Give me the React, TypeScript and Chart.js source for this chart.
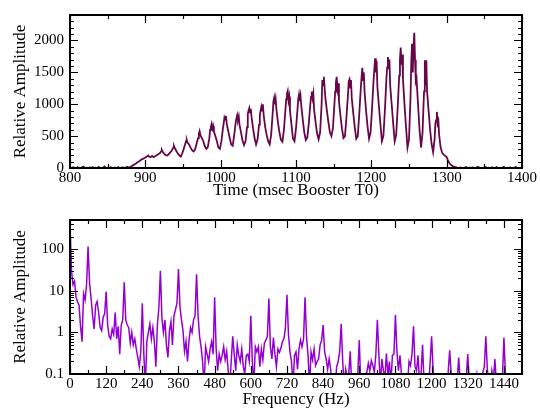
import React, { useEffect, useRef } from "react";
import { Chart, registerables } from "chart.js";

Chart.register(...registerables);

const FONT = "'Liberation Serif', 'Times New Roman', Times, serif";
const TOP_COLOR = "rgb(103,7,72)";
const BOTTOM_COLOR = "rgb(148,0,211)";

// ---- Top panel: time signal ----
const timeMs = [
  800, 802, 804, 806, 808, 810, 812, 814, 816, 818,
  820, 822, 824, 826, 828, 830, 832, 834, 836, 838,
  840, 842, 844, 846, 848, 850, 852, 854, 856, 858,
  860, 862, 864, 866, 868, 870, 872, 874, 876, 878,
  880, 882, 884, 886, 888, 890, 892, 894, 896, 898,
  900, 902, 904, 905, 907, 909, 911, 913, 915, 917,
  919, 921, 922, 923, 925, 927, 929, 931, 933, 935,
  937, 938, 939, 941, 943, 945, 947, 949, 951, 953,
  954, 955, 956, 958, 960, 962, 964, 966, 968, 970,
  971, 972, 973, 975, 977, 979, 981, 983, 985, 986,
  987, 988, 989, 990, 991, 993, 995, 997, 999, 1001,
  1003, 1004, 1005, 1006, 1007, 1008, 1010, 1012, 1014, 1016,
  1018, 1020, 1021, 1022, 1023, 1024, 1025, 1027, 1029, 1031,
  1033, 1035, 1036, 1037, 1038, 1039, 1040, 1041, 1043, 1045,
  1047, 1049, 1051, 1052, 1053, 1054, 1055, 1056, 1057, 1059,
  1061, 1063, 1065, 1067, 1069, 1070, 1071, 1072, 1073, 1074,
  1076, 1078, 1080, 1082, 1084, 1086, 1087, 1088, 1089, 1090,
  1091, 1092, 1094, 1096, 1098, 1100, 1102, 1103, 1104, 1105,
  1106, 1107, 1109, 1111, 1113, 1115, 1117, 1119, 1120, 1121,
  1122, 1123, 1124, 1126, 1128, 1130, 1132, 1134, 1135, 1136,
  1137, 1138, 1139, 1141, 1143, 1145, 1147, 1149, 1151, 1152,
  1153, 1154, 1155, 1156, 1157, 1159, 1161, 1163, 1165, 1167,
  1169, 1170, 1171, 1172, 1173, 1174, 1176, 1178, 1180, 1182,
  1184, 1186, 1187, 1188, 1189, 1190, 1191, 1193, 1195, 1197,
  1199, 1201, 1203, 1204, 1205, 1206, 1207, 1208, 1210, 1212,
  1214, 1216, 1218, 1220, 1221, 1222, 1223, 1224, 1225, 1227,
  1229, 1231, 1233, 1235, 1237, 1238, 1239, 1240, 1241, 1242,
  1244, 1246, 1248, 1250, 1252, 1253, 1254, 1255, 1256, 1257,
  1258, 1259, 1260, 1262, 1264, 1266, 1268, 1269, 1270, 1271,
  1272, 1273, 1274, 1276, 1278, 1280, 1282, 1284, 1285, 1286,
  1287, 1288, 1289, 1290, 1292, 1294, 1296, 1298, 1300, 1302,
  1304, 1306, 1308, 1310, 1312, 1314, 1316, 1318, 1320, 1322,
  1324, 1326, 1328, 1330, 1332, 1334, 1336, 1338, 1340, 1342,
  1344, 1346, 1348, 1350, 1352, 1354, 1356, 1358, 1360, 1362,
  1364, 1366, 1368, 1370, 1372, 1374, 1376, 1378, 1380, 1382,
  1384, 1386, 1388, 1390, 1392, 1394, 1396, 1398, 1400,
];

const amplitude = [
  8, -6, 12, 3, -10, 15, 0, -8, 10, 22,
  -4, 6, -12, 9, 2, 14, -7, 5, -3, 18,
  0, -9, 7, 25, -5, 4, -11, 13, 1, -6,
  9, -2, 16, -8, 4, 11, -5, 8, 20, 6,
  15, 30, 45, 60, 75, 95, 105, 125, 140, 150,
  165, 180, 195, 180, 170, 190, 170, 185, 200, 215,
  230, 260, 280, 255, 225, 200, 195, 215, 245, 270,
  320, 345, 315, 270, 230, 200, 180, 230, 300, 380,
  420, 440, 400, 370, 320, 280, 260, 290, 380, 470,
  540, 580, 520, 470, 420, 340, 300, 330, 470, 600,
  640, 690, 620, 660, 570, 500, 420, 320, 300, 420,
  620, 700, 790, 760, 820, 700, 580, 470, 370, 350,
  520, 720, 780, 830, 760, 810, 680, 560, 430, 360,
  420, 640, 850, 900, 940, 870, 930, 800, 620, 470,
  370, 450, 680, 830, 900, 960, 900, 1000, 840, 650,
  520, 420, 370, 520, 850, 1040, 1100, 1000, 1080, 920,
  720, 560, 440, 410, 600, 920, 1080, 1170, 1210, 1060,
  1120, 900, 680, 460, 420, 620, 920, 1080, 1150, 1050,
  1130, 980, 760, 560, 440, 480, 700, 1000, 1120, 1200,
  1100, 1170, 920, 720, 540, 450, 560, 1000, 1380, 1300,
  1430, 1250, 1100, 900, 720, 560, 500, 620, 1000, 1200,
  1340, 1430, 1250, 1330, 1050, 820, 620, 470, 500, 800,
  1150, 1360, 1390, 1260, 1380, 1100, 860, 640, 460, 500,
  850, 1250, 1420, 1570, 1380, 1500, 1200, 900, 650, 460,
  560, 950, 1380, 1550, 1720, 1500, 1680, 1280, 980, 700,
  420, 500, 900, 1400, 1580, 1740, 1550, 1700, 1300, 1000,
  700, 420, 520, 950, 1450, 1700, 1890, 1620, 1780, 1400,
  1000, 650, 320, 450, 1100, 1650, 1950, 1500, 1900, 2120,
  1700, 1360, 1400, 1000, 600, 320, 560, 900, 1200, 1690,
  1300, 1690, 1200, 900, 600, 380, 250, 450, 700, 750,
  880, 700, 740, 520, 320, 240, 210, 190, 170, 110,
  70, 45, 30, 20, 12, 5, -4, 10, 2, -6,
  8, 15, -3, 6, -8, 12, 0, -5, 9, 18,
  -2, 4, -9, 7, 14, -4, 3, -7, 10, 1,
  -5, 13, -2, 6, -8, 9, 20, -3, 5, -6,
  11, 0, -4, 8, 16, -2, 5, -7, 10,
];

// ---- Bottom panel: spectrum, one value per 5 Hz bin (0 .. 1500 Hz) ----
const FREQ_STEP_HZ = 5;
const spectrumAmp = [
  450, 30, 14, 17, 7, 5.5, 4.5, 1.4, 0.6, 8.5, 6, 14,               // 0-55
  115, 15, 6.5, 2.5, 1.2, 4.5, 5.5, 3, 1.3, 1.1, 2.3, 2.8,          // 60-115
  9.5, 1.5, 0.8, 0.7, 1.2, 0.9, 3, 0.7, 1.4, 0.3, 1.5, 2,           // 120-175
  16, 2, 1.5, 1.3, 0.55, 1, 0.5, 0.7, 0.4, 0.25, 0.15, 0.35,        // 180-235
  5, 0.3, 0.05, 0.6, 1, 1.6, 0.7, 1.3, 0.6, 0.15, 1.5, 4,           // 240-295
  30, 2.2, 1, 2, 0.5, 0.25, 1.1, 1.8, 0.5, 2.5, 3.5, 5,             // 300-355
  33, 4, 2, 1.1, 0.35, 0.6, 0.2, 0.65, 1.3, 1, 2, 2.5,              // 360-415
  25, 2.5, 0.8, 0.45, 0.2, 0.05, 0.45, 0.3, 0.2, 0.4, 0.6, 0.3,     // 420-475
  7, 0.4, 0.12, 0.3, 0.2, 0.28, 0.45, 0.22, 0.35, 0.12, 0.05, 0.2,  // 480-535
  0.8, 0.3, 0.12, 0.5, 0.28, 0.2, 0.4, 0.15, 0.1, 0.28, 0.3, 0.2,   // 540-595
  2.5, 0.2, 0.05, 0.45, 0.34, 0.45, 0.15, 0.4, 0.22, 0.55, 0.65, 0.8, // 600-655
  6.5, 0.45, 0.23, 0.75, 0.3, 0.15, 0.4, 0.33, 0.42, 0.6, 0.7, 1.3, // 660-715
  8, 0.9, 0.34, 0.2, 0.05, 0.28, 0.34, 0.13, 0.4, 0.65, 0.45, 0.7,  // 720-775
  7, 0.75, 0.28, 0.05, 0.34, 0.22, 0.4, 0.16, 0.2, 0.23, 0.5, 0.65, // 780-835
  1.5, 0.34, 0.23, 0.13, 0.23, 0.13, 0.05, 0.08, 0.05, 0.15, 0.2, 0.35, // 840-895
  1.6, 0.2, 0.05, 0.13, 0.08, 0.1, 0.35, 0.05, 0.07, 0.05, 0.08, 0.1, // 900-955
  0.65, 0.05, 0.07, 0.05, 0.1, 0.11, 0.18, 0.12, 0.21, 0.16, 0.11, 0.3, // 960-1015
  2, 0.3, 0.05, 0.23, 0.12, 0.08, 0.31, 0.09, 0.2, 0.06, 0.28, 0.3, // 1020-1075
  2.6, 0.34, 0.12, 0.28, 0.1, 0.06, 0.05, 0.07, 0.05, 0.2, 0.16, 0.3, // 1080-1135
  1.4, 0.15, 0.12, 0.28, 0.06, 0.1, 0.5, 0.06, 0.05, 0.07, 0.05, 0.18, // 1140-1195
  0.8, 0.13, 0.05, 0.06, 0.05, 0.07, 0.05, 0.06, 0.05, 0.07, 0.06, 0.11, // 1200-1255
  0.37, 0.1, 0.05, 0.06, 0.05, 0.07, 0.25, 0.06, 0.05, 0.07, 0.05, 0.08, // 1260-1315
  0.3, 0.06, 0.05, 0.07, 0.05, 0.06, 0.1, 0.05, 0.06, 0.05, 0.11, 0.15,  // 1320-1375
  0.8, 0.13, 0.06, 0.05, 0.12, 0.07, 0.23, 0.06, 0.05, 0.06, 0.05, 0.08, // 1380-1435
  0.75, 0.1, 0.05, 0.06, 0.05, 0.07, 0.05, 0.06, 0.05, 0.06, 0.05, 0.07, // 1440-1495
  0.12,                                                               // 1500
];

// ---- Axis tick values ----
const timeMajorTicks = [800, 900, 1000, 1100, 1200, 1300, 1400];
const timeMinorTicks = [850, 950, 1050, 1150, 1250, 1350];
const ampMajorTicks = [0, 500, 1000, 1500, 2000];
const ampMinorTicks = [100, 200, 300, 400, 600, 700, 800, 900, 1100, 1200, 1300, 1400,
  1600, 1700, 1800, 1900, 2100, 2200, 2300];
const freqMajorTicks = [0, 120, 240, 360, 480, 600, 720, 840, 960, 1080, 1200, 1320, 1440];
const freqMinorTicks = [60, 180, 300, 420, 540, 660, 780, 900, 1020, 1140, 1260, 1380, 1500];
const logMajorTicks = [0.1, 1, 10, 100];
const logTickLabels = ["0.1", "1", "10", "100"];
const logMinorTicks = [0.2, 0.3, 0.4, 0.5, 0.6, 0.7, 0.8, 0.9, 2, 3, 4, 5, 6, 7, 8, 9,
  20, 30, 40, 50, 60, 70, 80, 90, 200, 300, 400];

// Frame with inward ticks on all four sides, positioned through the chart scales
const frameTicks = {
  id: "frameTicks",
  afterDraw(chart: any, _args: any, opts: any) {
    const { ctx, chartArea } = chart;
    const { left, right, top, bottom } = chartArea;
    const xs = chart.scales.x;
    const ys = chart.scales.y;
    ctx.save();
    ctx.strokeStyle = "#000";
    ctx.lineWidth = 1.2;
    ctx.beginPath();
    const vert = (vals: number[], len: number) => {
      vals.forEach((v) => {
        const p = Math.round(xs.getPixelForValue(v)) + 0.5;
        if (p < left - 1 || p > right + 1) return;
        ctx.moveTo(p, bottom);
        ctx.lineTo(p, bottom - len);
        ctx.moveTo(p, top);
        ctx.lineTo(p, top + len);
      });
    };
    const horiz = (vals: number[], len: number) => {
      vals.forEach((v) => {
        const p = Math.round(ys.getPixelForValue(v)) + 0.5;
        if (p < top - 1 || p > bottom + 1) return;
        ctx.moveTo(left, p);
        ctx.lineTo(left + len, p);
        ctx.moveTo(right, p);
        ctx.lineTo(right - len, p);
      });
    };
    vert(opts.xMajor, 8);
    vert(opts.xMinor, 4);
    horiz(opts.yMajor, 8);
    horiz(opts.yMinor, 4);
    ctx.stroke();
    ctx.lineWidth = 2;
    ctx.strokeRect(left, top, right - left, bottom - top);
    ctx.restore();
  },
};

const tickFont = { family: FONT, size: 15 };
const titleFont = { family: FONT, size: 17 };

const setTicks = (vals: number[]) => (s: any) => {
  s.ticks = vals.map((v) => ({ value: v }));
};

export default function App() {
  const topRef = useRef<HTMLCanvasElement | null>(null);
  const bottomRef = useRef<HTMLCanvasElement | null>(null);

  useEffect(() => {
    if (!topRef.current || !bottomRef.current) return;

    const topChart = new Chart(topRef.current, {
      type: "line",
      data: {
        datasets: [
          {
            data: timeMs.map((t, i) => ({ x: t, y: amplitude[i] })),
            borderColor: TOP_COLOR,
            borderWidth: 1.8,
            pointRadius: 0,
            tension: 0,
            fill: false,
          },
        ],
      },
      plugins: [frameTicks as any],
      options: {
        animation: false,
        responsive: false,
        devicePixelRatio: 1,
        layout: { padding: { top: 9, right: 18, bottom: 0, left: 0 } },
        plugins: {
          legend: { display: false },
          tooltip: { enabled: false },
          frameTicks: {
            xMajor: timeMajorTicks,
            xMinor: timeMinorTicks,
            yMajor: ampMajorTicks,
            yMinor: ampMinorTicks,
          },
        } as any,
        scales: {
          x: {
            type: "linear",
            min: 800,
            max: 1400,
            grid: { display: false, drawTicks: false },
            border: { display: false },
            afterBuildTicks: setTicks(timeMajorTicks),
            ticks: {
              autoSkip: false,
              maxRotation: 0,
              padding: 1,
              color: "#000",
              font: tickFont,
              callback: (v: any) => String(v),
            },
            title: {
              display: true,
              text: "Time (msec Booster T0)",
              color: "#000",
              font: titleFont,
              padding: { top: 0, bottom: 4 },
            },
            afterFit: (s: any) => {
              s.height = 37;
            },
          },
          y: {
            type: "linear",
            min: 0,
            max: 2400,
            grid: { display: false, drawTicks: false },
            border: { display: false },
            afterBuildTicks: setTicks(ampMajorTicks),
            ticks: {
              autoSkip: false,
              padding: 6,
              color: "#000",
              font: tickFont,
              callback: (v: any) => String(v),
            },
            title: {
              display: true,
              text: "Relative Amplitude",
              color: "#000",
              font: titleFont,
              padding: { top: 10, bottom: 0 },
            },
            afterFit: (s: any) => {
              s.width = 70;
            },
          },
        },
      },
    });

    const bottomChart = new Chart(bottomRef.current, {
      type: "line",
      data: {
        datasets: [
          {
            data: spectrumAmp.map((a, i) => ({ x: i * FREQ_STEP_HZ, y: a })),
            borderColor: BOTTOM_COLOR,
            borderWidth: 1.5,
            pointRadius: 0,
            tension: 0,
            fill: false,
          },
        ],
      },
      plugins: [frameTicks as any],
      options: {
        animation: false,
        responsive: false,
        devicePixelRatio: 1,
        layout: { padding: { top: 10, right: 18, bottom: 0, left: 0 } },
        plugins: {
          legend: { display: false },
          tooltip: { enabled: false },
          frameTicks: {
            xMajor: freqMajorTicks,
            xMinor: freqMinorTicks,
            yMajor: logMajorTicks,
            yMinor: logMinorTicks,
          },
        } as any,
        scales: {
          x: {
            type: "linear",
            min: 0,
            max: 1500,
            grid: { display: false, drawTicks: false },
            border: { display: false },
            afterBuildTicks: setTicks(freqMajorTicks),
            ticks: {
              autoSkip: false,
              maxRotation: 0,
              padding: 1,
              color: "#000",
              font: tickFont,
              callback: (v: any) => String(v),
            },
            title: {
              display: true,
              text: "Frequency (Hz)",
              color: "#000",
              font: titleFont,
              padding: { top: 0, bottom: 1 },
            },
            afterFit: (s: any) => {
              s.height = 37;
            },
          },
          y: {
            type: "logarithmic",
            min: 0.1,
            max: 500,
            grid: { display: false, drawTicks: false },
            border: { display: false },
            afterBuildTicks: setTicks(logMajorTicks),
            ticks: {
              autoSkip: false,
              padding: 6,
              color: "#000",
              font: tickFont,
              callback: (_v: any, i: number) => logTickLabels[i] ?? "",
            },
            title: {
              display: true,
              text: "Relative Amplitude",
              color: "#000",
              font: titleFont,
              padding: { top: 10, bottom: 0 },
            },
            afterFit: (s: any) => {
              s.width = 70;
            },
          },
        },
      },
    });

    return () => {
      topChart.destroy();
      bottomChart.destroy();
    };
  }, []);

  return (
    <div
      style={{
        position: "fixed",
        left: 0,
        top: 0,
        width: 540,
        height: 411,
        background: "#fff",
      }}
    >
      <canvas
        ref={topRef}
        width={540}
        height={205}
        style={{ position: "absolute", left: 0, top: 0, width: 540, height: 205 }}
      />
      <canvas
        ref={bottomRef}
        width={540}
        height={206}
        style={{ position: "absolute", left: 0, top: 205, width: 540, height: 206 }}
      />
    </div>
  );
}
